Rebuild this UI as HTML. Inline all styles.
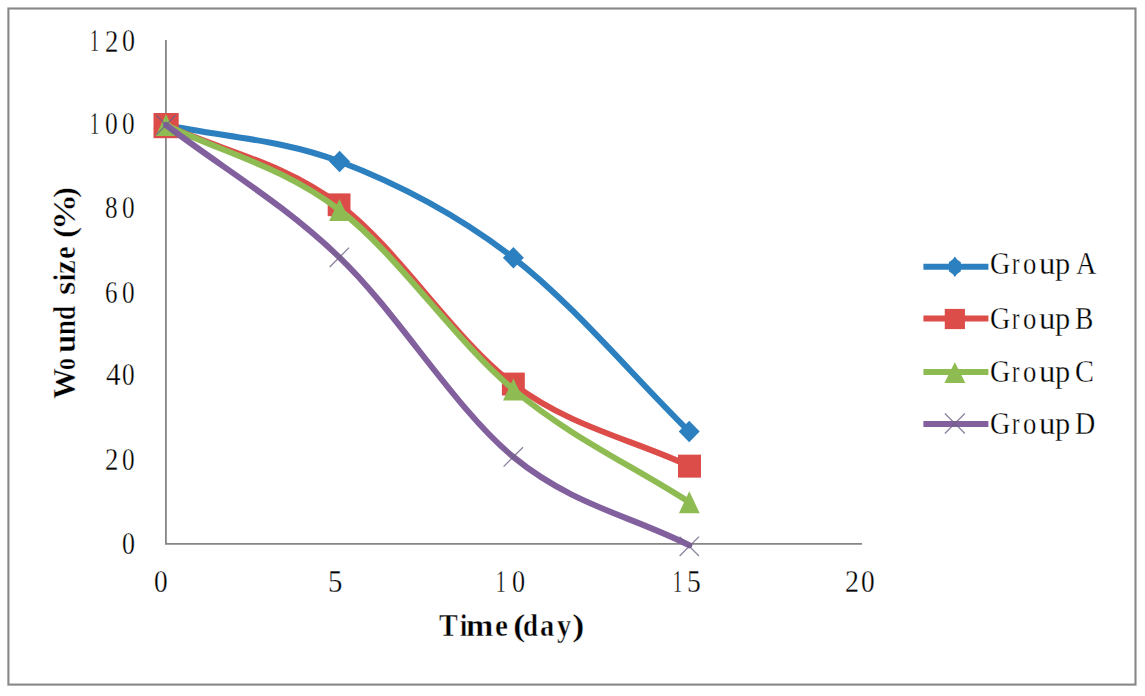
<!DOCTYPE html>
<html><head><meta charset="utf-8"><style>
html,body{margin:0;padding:0;background:#fff;width:1145px;height:696px;overflow:hidden;}
body{position:relative;font-family:"Liberation Serif",serif;color:#000;}
svg{position:absolute;left:0;top:0;}
.t{position:absolute;font-size:31.0px;line-height:31.0px;white-space:nowrap;transform-origin:0 0;-webkit-text-stroke:0.3px #fff;}
.b{font-weight:bold;-webkit-text-stroke:0.45px #fff;}
.yt{position:absolute;width:0;height:0;transform-origin:0 0;transform:rotate(-90deg);}
</style></head><body>
<svg width="1145" height="696" viewBox="0 0 1145 696">
<rect x="8.4" y="8.5" width="1127.1" height="676.1" fill="none" stroke="#878787" stroke-width="2.1"/>
<path d="M165.9,40 V544.7 M165,543.8 H862" stroke="#868686" stroke-width="1.8" fill="none"/>
<path d="M166.0,125.0 C223.9,137.2 281.7,139.4 339.6,161.5 C397.5,183.6 455.1,212.8 513.4,257.8 C571.7,302.8 630.6,373.6 689.2,431.5" stroke="#2C80C0" stroke-width="6" fill="none" stroke-linejoin="round" stroke-linecap="round"/>
<path d="M166.00,114.30 L176.50,125.00 L166.00,135.70 L155.50,125.00 Z" fill="#2C80C0"/>
<path d="M339.60,150.80 L350.10,161.50 L339.60,172.20 L329.10,161.50 Z" fill="#2C80C0"/>
<path d="M513.40,247.10 L523.90,257.80 L513.40,268.50 L502.90,257.80 Z" fill="#2C80C0"/>
<path d="M689.20,420.80 L699.70,431.50 L689.20,442.20 L678.70,431.50 Z" fill="#2C80C0"/>
<path d="M166.0,125.3 C223.8,151.7 281.4,161.5 339.3,204.6 C397.2,247.7 455.0,340.5 513.4,384.1 C571.7,427.6 630.8,438.8 689.5,466.1" stroke="#DC4D4A" stroke-width="6" fill="none" stroke-linejoin="round" stroke-linecap="round"/>
<rect x="153.50" y="113.00" width="25.20" height="25.20" fill="#DC4D4A"/>
<rect x="327.70" y="193.40" width="22.80" height="22.80" fill="#DC4D4A"/>
<rect x="501.90" y="372.60" width="22.90" height="22.90" fill="#DC4D4A"/>
<rect x="678.00" y="454.65" width="23.00" height="23.00" fill="#DC4D4A"/>
<path d="M166.0,125.0 C223.8,153.3 281.6,165.9 339.5,210.0 C397.4,254.1 455.1,340.8 513.4,389.5 C571.7,438.2 630.7,464.6 689.3,502.2" stroke="#8EBC52" stroke-width="6" fill="none" stroke-linejoin="round" stroke-linecap="round"/>
<path d="M166.00,114.00 L176.40,136.00 L155.60,136.00 Z" fill="#8EBC52"/>
<path d="M339.50,199.00 L349.90,221.00 L329.10,221.00 Z" fill="#8EBC52"/>
<path d="M513.40,378.50 L523.80,400.50 L503.00,400.50 Z" fill="#8EBC52"/>
<path d="M689.30,491.20 L699.70,513.20 L678.90,513.20 Z" fill="#8EBC52"/>
<path d="M166.0,125.0 C223.8,169.1 281.5,202.0 339.4,257.3 C397.3,312.6 455.0,408.9 513.3,456.9 C571.6,504.9 630.6,515.8 689.3,545.3" stroke="#82609E" stroke-width="6" fill="none" stroke-linejoin="round" stroke-linecap="round"/>
<path d="M156.30,115.30 L175.70,134.70 M175.70,115.30 L156.30,134.70" stroke="#6e6284" stroke-width="1.3" stroke-opacity="0.8" fill="none"/>
<path d="M329.70,247.60 L349.10,267.00 M349.10,247.60 L329.70,267.00" stroke="#6e6284" stroke-width="1.3" stroke-opacity="0.8" fill="none"/>
<path d="M503.60,447.20 L523.00,466.60 M523.00,447.20 L503.60,466.60" stroke="#6e6284" stroke-width="1.3" stroke-opacity="0.8" fill="none"/>
<path d="M679.60,536.60 L699.00,556.00 M699.00,536.60 L679.60,556.00" stroke="#6e6284" stroke-width="1.3" stroke-opacity="0.8" fill="none"/>
<path d="M923.4,266.8 H988.4" stroke="#2C80C0" stroke-width="6"/>
<path d="M954.85,256.40 L956.85,259.15 L960.85,262.15 L960.85,271.15 L956.85,274.15 L954.85,276.90 L952.85,274.15 L948.85,271.15 L948.85,262.15 L952.85,259.15 Z" fill="#2C80C0"/>
<path d="M923.4,318.4 H988.4" stroke="#DC4D4A" stroke-width="6"/>
<rect x="944.75" y="308.90" width="20.20" height="20.20" fill="#DC4D4A"/>
<path d="M923.4,372.0 H988.4" stroke="#8EBC52" stroke-width="6"/>
<path d="M954.85,362.30 L965.35,383.00 L944.35,383.00 Z" fill="#8EBC52"/>
<path d="M923.4,424 H988.4" stroke="#82609E" stroke-width="6"/>
<path d="M944.85,413.50 L964.85,433.50 M964.85,413.50 L944.85,433.50" stroke="#6e6284" stroke-width="1.3" stroke-opacity="0.8" fill="none"/>
</svg>
<span class="t" style="left:90.30px;top:25.47px;transform:scaleX(0.586);">1</span>
<span class="t" style="left:105.13px;top:25.50px;transform:scaleX(0.861);">2</span>
<span class="t" style="left:121.81px;top:25.40px;transform:scaleX(0.837);">0</span>
<span class="t" style="left:90.48px;top:107.72px;transform:scaleX(0.596);">1</span>
<span class="t" style="left:105.23px;top:107.65px;transform:scaleX(0.822);">0</span>
<span class="t" style="left:122.04px;top:107.65px;transform:scaleX(0.814);">0</span>
<span class="t" style="left:105.14px;top:192.15px;transform:scaleX(0.814);">8</span>
<span class="t" style="left:121.94px;top:192.15px;transform:scaleX(0.814);">0</span>
<span class="t" style="left:105.02px;top:276.80px;transform:scaleX(0.808);">6</span>
<span class="t" style="left:121.94px;top:276.85px;transform:scaleX(0.814);">0</span>
<span class="t" style="left:105.53px;top:358.99px;transform:scaleX(0.944);">4</span>
<span class="t" style="left:121.94px;top:358.95px;transform:scaleX(0.814);">0</span>
<span class="t" style="left:104.93px;top:443.60px;transform:scaleX(0.861);">2</span>
<span class="t" style="left:121.94px;top:443.50px;transform:scaleX(0.814);">0</span>
<span class="t" style="left:122.01px;top:528.40px;transform:scaleX(0.837);">0</span>
<span class="t" style="left:154.16px;top:565.70px;transform:scaleX(0.883);">0</span>
<span class="t" style="left:327.53px;top:565.54px;transform:scaleX(0.929);">5</span>
<span class="t" style="left:496.40px;top:565.77px;transform:scaleX(0.623);">1</span>
<span class="t" style="left:511.80px;top:565.70px;transform:scaleX(0.845);">0</span>
<span class="t" style="left:673.00px;top:565.77px;transform:scaleX(0.586);">1</span>
<span class="t" style="left:687.00px;top:565.54px;transform:scaleX(0.889);">5</span>
<span class="t" style="left:844.67px;top:565.80px;transform:scaleX(0.901);">2</span>
<span class="t" style="left:861.26px;top:565.70px;transform:scaleX(0.883);">0</span>
<span class="t" style="left:990.15px;top:248.15px;transform:scaleX(0.908);">G</span>
<span class="t" style="left:1012.35px;top:248.15px;transform:scaleX(0.721);">r</span>
<span class="t" style="left:1023.28px;top:248.15px;transform:scaleX(0.860);">o</span>
<span class="t" style="left:1038.57px;top:248.15px;transform:scaleX(1.058);">u</span>
<span class="t" style="left:1054.61px;top:248.15px;transform:scaleX(0.979);">p</span>
<span class="t" style="left:1075.92px;top:248.15px;transform:scaleX(0.910);">A</span>
<span class="t" style="left:990.15px;top:302.50px;transform:scaleX(0.908);">G</span>
<span class="t" style="left:1012.35px;top:302.50px;transform:scaleX(0.721);">r</span>
<span class="t" style="left:1023.28px;top:302.50px;transform:scaleX(0.860);">o</span>
<span class="t" style="left:1038.57px;top:302.50px;transform:scaleX(1.058);">u</span>
<span class="t" style="left:1054.61px;top:302.50px;transform:scaleX(0.979);">p</span>
<span class="t" style="left:1075.41px;top:302.50px;transform:scaleX(0.887);">B</span>
<span class="t" style="left:990.15px;top:356.45px;transform:scaleX(0.908);">G</span>
<span class="t" style="left:1012.35px;top:356.45px;transform:scaleX(0.721);">r</span>
<span class="t" style="left:1023.28px;top:356.45px;transform:scaleX(0.860);">o</span>
<span class="t" style="left:1038.57px;top:356.45px;transform:scaleX(1.058);">u</span>
<span class="t" style="left:1054.61px;top:356.45px;transform:scaleX(0.979);">p</span>
<span class="t" style="left:1075.04px;top:356.45px;transform:scaleX(0.916);">C</span>
<span class="t" style="left:990.15px;top:408.30px;transform:scaleX(0.908);">G</span>
<span class="t" style="left:1012.35px;top:408.30px;transform:scaleX(0.721);">r</span>
<span class="t" style="left:1023.28px;top:408.30px;transform:scaleX(0.860);">o</span>
<span class="t" style="left:1038.57px;top:408.30px;transform:scaleX(1.058);">u</span>
<span class="t" style="left:1054.61px;top:408.30px;transform:scaleX(0.979);">p</span>
<span class="t" style="left:1075.39px;top:408.30px;transform:scaleX(0.904);">D</span>
<span class="t b" style="left:439.36px;top:610.29px;transform:scaleX(0.908);font-weight:bold;">T</span>
<span class="t b" style="left:460.23px;top:610.29px;transform:scaleX(0.843);font-weight:bold;">i</span>
<span class="t b" style="left:466.22px;top:610.29px;transform:scaleX(1.059);font-weight:bold;">m</span>
<span class="t b" style="left:495.10px;top:610.29px;transform:scaleX(0.941);font-weight:bold;">e</span>
<span class="t b" style="left:512.76px;top:610.29px;transform:scaleX(1.206);font-weight:bold;">(</span>
<span class="t b" style="left:523.21px;top:610.29px;transform:scaleX(0.870);font-weight:bold;">d</span>
<span class="t b" style="left:539.88px;top:610.29px;transform:scaleX(0.919);font-weight:bold;">a</span>
<span class="t b" style="left:556.72px;top:610.29px;transform:scaleX(0.913);font-weight:bold;">y</span>
<span class="t b" style="left:571.90px;top:610.29px;transform:scaleX(1.206);font-weight:bold;">)</span>
<div class="yt" style="left:40.0px;top:400.0px"><span class="t b" style="left:0.67px;top:8.96px;transform:scaleX(0.987);font-weight:bold;">W</span><span class="t b" style="left:30.40px;top:8.96px;transform:scaleX(0.761);font-weight:bold;">o</span><span class="t b" style="left:47.30px;top:8.96px;transform:scaleX(1.060);font-weight:bold;">u</span><span class="t b" style="left:65.18px;top:8.96px;transform:scaleX(0.866);font-weight:bold;">n</span><span class="t b" style="left:80.17px;top:8.96px;transform:scaleX(0.819);font-weight:bold;">d</span><span class="t b" style="left:105.16px;top:8.96px;transform:scaleX(1.109);font-weight:bold;">s</span><span class="t b" style="left:119.14px;top:8.96px;transform:scaleX(0.816);font-weight:bold;">i</span><span class="t b" style="left:125.69px;top:8.96px;transform:scaleX(1.002);font-weight:bold;">z</span><span class="t b" style="left:140.92px;top:8.96px;transform:scaleX(0.925);font-weight:bold;">e</span><span class="t b" style="left:161.63px;top:8.96px;transform:scaleX(1.080);font-weight:bold;">(</span><span class="t b" style="left:170.30px;top:8.96px;transform:scaleX(1.164);font-weight:bold;">%</span><span class="t b" style="left:202.43px;top:8.96px;transform:scaleX(1.068);font-weight:bold;">)</span></div>
</body></html>
